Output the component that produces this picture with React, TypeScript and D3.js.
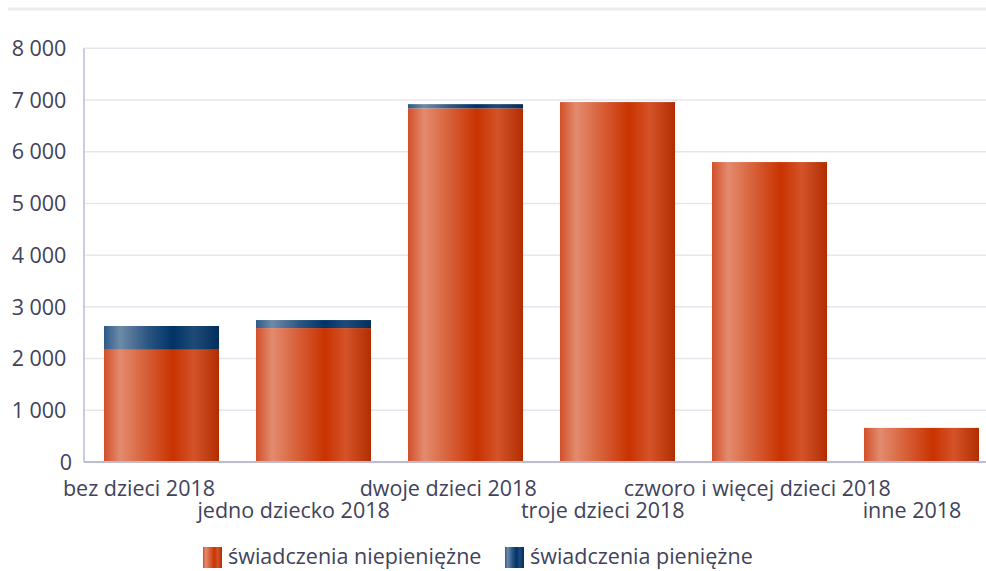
import React from "react";
import * as d3 from "d3";

const categories = [
  "bez dzieci 2018",
  "jedno dziecko 2018",
  "dwoje dzieci 2018",
  "troje dzieci 2018",
  "czworo i więcej dzieci 2018",
  "inne 2018",
];
const niepieniezne = [2170, 2590, 6840, 6960, 5800, 660];
const pieniezne = [460, 155, 80, 0, 0, 0];
const yTicks = [0, 1000, 2000, 3000, 4000, 5000, 6000, 7000, 8000];
const seriesNames = ["świadczenia niepieniężne", "świadczenia pieniężne"];

const W = 986;
const H = 571;
const FONT = "'Open Sans', sans-serif";
const TEXT = "#41425a";
const FS = 21.5;

export default function App() {
  const x = d3.scaleBand<string>().domain(categories).range([85.5, 997.5]).paddingInner(0.243).paddingOuter(0.1215);
  const y = d3.scaleLinear().domain([0, 8000]).range([462, 48.3]);
  const labelX = d3.scalePoint<string>().domain(categories).range([139, 912]);
  const fmt = (v: number) => (v === 0 ? "0" : d3.format(",")(v).replace(/,/g, " ") + "\u00a0");

  const stack = d3.stack<number>().keys(["a", "b"]).value((i, k) => (k === "a" ? niepieniezne[i] : pieniezne[i]));
  const series = stack(categories.map((_, i) => i));
  const grads = ["gradRed", "gradBlue"];

  return (
    <svg width={W} height={H} style={{ position: "absolute", left: 0, top: 0, display: "block" }}>
      <defs>
        <linearGradient id="gradRed" x1="0" x2="1" y1="0" y2="0">
          <stop offset="0%" stopColor="#d2502a" />
          <stop offset="14%" stopColor="#e38b6e" />
          <stop offset="38%" stopColor="#d65c34" />
          <stop offset="60%" stopColor="#c93300" />
          <stop offset="78%" stopColor="#d4532a" />
          <stop offset="100%" stopColor="#b22d00" />
        </linearGradient>
        <linearGradient id="gradBlue" x1="0" x2="1" y1="0" y2="0">
          <stop offset="0%" stopColor="#2d5a88" />
          <stop offset="14%" stopColor="#6e8aa8" />
          <stop offset="38%" stopColor="#2c5682" />
          <stop offset="60%" stopColor="#003366" />
          <stop offset="78%" stopColor="#1f4a78" />
          <stop offset="100%" stopColor="#002e5c" />
        </linearGradient>
      </defs>
      <rect x={0} y={0} width={W} height={H} fill="#fff" />
      <rect x={8} y={7.5} width={W - 8} height={3} fill="#ebebf2" />
      {yTicks.map((t) => (
        <g key={t}>
          {t > 0 && <line x1={84} x2={W} y1={y(t)} y2={y(t)} stroke="#e6e6ee" strokeWidth={1.5} />}
          <text x={72} y={y(t)} dy="0.36em" textAnchor="end" fontFamily={FONT} fontSize={FS} fill={TEXT}>
            {fmt(t)}
          </text>
        </g>
      ))}
      {series.map((s, si) =>
        s.map((d, i) =>
          d[1] - d[0] > 0 ? (
            <rect
              key={si + "-" + i}
              x={x(categories[i])}
              y={y(d[1])}
              width={x.bandwidth()}
              height={y(d[0]) - y(d[1])}
              fill={`url(#${grads[si]})`}
            />
          ) : null
        )
      )}
      <line x1={84} x2={84} y1={y(8000)} y2={y(0)} stroke="#b9bcd2" strokeWidth={1.5} />
      <line x1={84} x2={W} y1={y(0)} y2={y(0)} stroke="#b9bcd2" strokeWidth={2} />
      {categories.map((c, i) => (
        <text
          key={c}
          x={labelX(c)}
          y={i % 2 === 0 ? 496 : 518}
          textAnchor="middle"
          fontFamily={FONT}
          fontSize={FS}
          fill={TEXT}
        >
          {c}
        </text>
      ))}
      {seriesNames.map((n, i) => {
        const lx = i === 0 ? 203 : 505;
        return (
          <g key={n}>
            <rect x={lx} y={547} width={19} height={21} fill={`url(#${grads[i]})`} />
            <text x={lx + 25} y={564} fontFamily={FONT} fontSize={FS} fill={TEXT}>
              {n}
            </text>
          </g>
        );
      })}
    </svg>
  );
}
